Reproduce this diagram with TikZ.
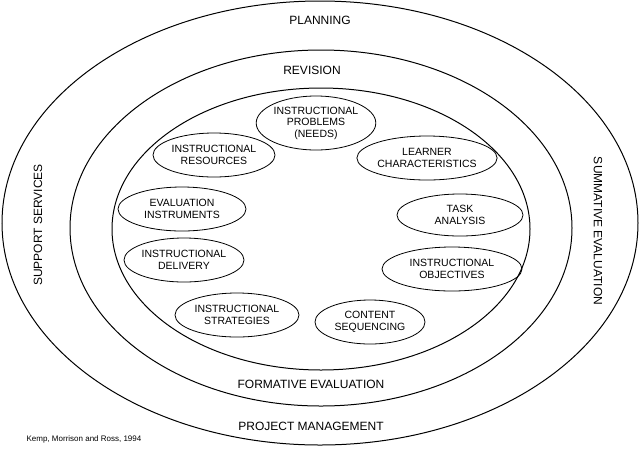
\documentclass[tikz,border=0pt]{standalone}
\usepackage{fontspec}
\setmainfont{Liberation Sans}
\usetikzlibrary{shapes.geometric}
\begin{document}
\begin{tikzpicture}[x=1pt,y=-1pt,
  ring/.style={draw,line width=1pt,ellipse,inner sep=0pt},
  sub/.style={draw,line width=0.8pt,ellipse,inner sep=0pt,align=center,font=\fontsize{10.5}{11.5}\selectfont},
  lab/.style={font=\fontsize{12}{13}\selectfont}]
\path[use as bounding box] (0,0) rectangle (640,459);
\node[ring,minimum width=636,minimum height=444] (outer) at (320,223) {};
\node[ring,minimum width=502,minimum height=356] (middle) at (321,228) {};
\node[ring,minimum width=418,minimum height=282] (inner) at (321,229) {};
\node[sub,minimum width=116,minimum height=54] (a) at (316,123) {INSTRUCTIONAL\\PROBLEMS\\(NEEDS)};
\node[sub,minimum width=124,minimum height=44] (b) at (427,158) {LEARNER\\CHARACTERISTICS};
\node[sub,minimum width=126,minimum height=42] (c) at (460,215) {TASK\\ANALYSIS};
\node[sub,minimum width=140,minimum height=44] (d) at (452,269) {INSTRUCTIONAL\\OBJECTIVES};
\node[sub,minimum width=110,minimum height=44] (e) at (370,322) {CONTENT\\SEQUENCING};
\node[sub,minimum width=124,minimum height=44] (f) at (237,315) {INSTRUCTIONAL\\STRATEGIES};
\node[sub,minimum width=120,minimum height=44] (g) at (184,260) {INSTRUCTIONAL\\DELIVERY};
\node[sub,minimum width=128,minimum height=44] (h) at (182,209) {EVALUATION\\INSTRUMENTS};
\node[sub,minimum width=122,minimum height=44] (i) at (214,155) {INSTRUCTIONAL\\RESOURCES};
\node[lab] (pl) at (320,20) {PLANNING};
\node[lab] (rv) at (312,70) {REVISION};
\node[lab] (fe) at (311,384) {FORMATIVE EVALUATION};
\node[lab] (pm) at (311,426) {PROJECT MANAGEMENT};
\node[lab,rotate=90] (ss) at (38,225) {SUPPORT SERVICES};
\node[lab,rotate=-90] (se) at (598,231) {SUMMATIVE EVALUATION};
\node[font=\fontsize{8}{9}\selectfont] (cite) at (84,439) {Kemp, Morrison and Ross, 1994};
\end{tikzpicture}
\end{document}
